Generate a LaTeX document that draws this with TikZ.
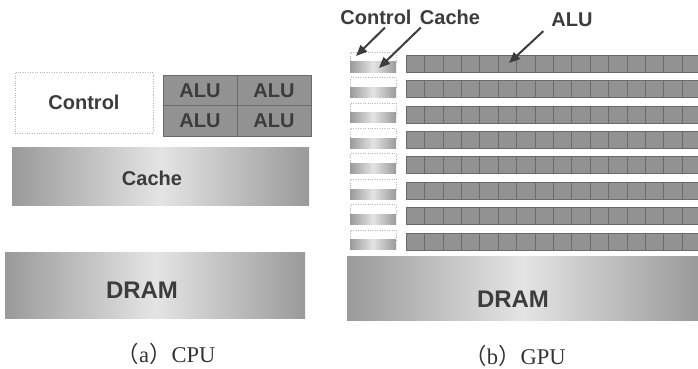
\documentclass[tikz,border=0pt]{standalone}
\usepackage{fontspec}
\setmainfont{Liberation Serif}
\setsansfont{Liberation Sans}
\newfontfamily\cjk{Noto Sans CJK SC}
\usetikzlibrary{arrows.meta}

\definecolor{ink}{HTML}{3C3C3C}
\definecolor{alugray}{HTML}{929292}
\definecolor{aluline}{HTML}{6A6A6A}
\definecolor{shadedark}{HTML}{9A9A9A}
\definecolor{shadelight}{HTML}{E4E4E4}

\begin{document}
\begin{tikzpicture}[
  x=1pt, y=-1pt,
  every node/.style={inner sep=0pt, text=ink},
  lbl/.style={font=\sffamily\bfseries\fontsize{20}{24}\selectfont},
  biglbl/.style={font=\sffamily\bfseries\fontsize{24}{28}\selectfont},
  captxt/.style={font=\fontsize{22.5}{26}\selectfont, text=black!80},
  ctrlbox/.style={draw=gray!60, dotted, fill=white},
  alubox/.style={draw=aluline, line width=0.5pt, fill=alugray},
  shadebox/.style={left color=shadedark, right color=shadedark, middle color=shadelight},
  ptr/.style={draw=ink, line width=2pt, -{Triangle[length=11pt, width=9pt]}}]

  \useasboundingbox (0,0) rectangle (698,369);

  % (a) CPU
  \node[ctrlbox, lbl, minimum width=138pt, minimum height=61pt] (ctrl) at (84,102.5) {Control};
  \node[alubox, lbl, minimum width=74pt, minimum height=30.5pt] (alu11) at (200,90.25)  {ALU};
  \node[alubox, lbl, minimum width=74pt, minimum height=30.5pt] (alu12) at (274,90.25)  {ALU};
  \node[alubox, lbl, minimum width=74pt, minimum height=30.5pt] (alu21) at (200,120.75) {ALU};
  \node[alubox, lbl, minimum width=74pt, minimum height=30.5pt] (alu22) at (274,120.75) {ALU};
  \node[shadebox, minimum width=297pt, minimum height=58pt] (cache) at (160.5,176) {};
  \node[lbl] (cachetxt) at (152,178) {Cache};
  \node[shadebox, minimum width=300pt, minimum height=66pt] (dram) at (155,285) {};
  \node[biglbl] (dramtxt) at (142,290) {DRAM};

  % (b) GPU: control + cache column, ALU rows
  \foreach \r [evaluate=\r as \yc using 52+25.4*\r,
               evaluate=\r as \ya using 55+25.4*\r] in {0,...,7} {
    \node[ctrlbox, minimum width=46pt, minimum height=10pt] (gctrl\r)  at (373,\yc+5)  {};
    \node[shadebox, minimum width=46pt, minimum height=10pt] (gcache\r) at (373,\yc+15) {};
    \fill[alugray] (406,\ya) rectangle (698,\ya+17);
    \draw[aluline, line width=0.4pt] (698,\ya) -- (406,\ya) -- (406,\ya+17) -- (698,\ya+17);
    \foreach \k in {1,...,15}
      \draw[aluline, line width=0.5pt] ({406+18.4*\k},\ya) -- ++(0,17);
  }
  \node[shadebox, minimum width=351pt, minimum height=64pt] (gdram) at (522.5,288) {};
  \node[biglbl] (gdramtxt) at (513,299) {DRAM};

  % labels and pointers
  \node[lbl] (lctrl)  at (376,17) {Control};
  \node[lbl] (lcache) at (450,17) {Cache};
  \node[lbl] (lalu)   at (572,20) {ALU};
  \coordinate (ctrltip)  at (356,56);
  \coordinate (cachetip) at (379,68);
  \coordinate (alutip)   at (509,63);
  \draw[ptr] ([xshift=9pt,yshift=-3pt]lctrl.south)       -- (ctrltip);
  \draw[ptr] ([xshift=1pt,yshift=-3pt]lcache.south west) -- (cachetip);
  \draw[ptr] ([xshift=-8pt,yshift=-4pt]lalu.south west)  -- (alutip);

  % captions
  \node[captxt] (capa) at (166,354) {{\cjk （}a{\cjk ）}CPU};
  \node[captxt] (capb) at (515,356) {{\cjk （}b{\cjk ）}GPU};
\end{tikzpicture}
\end{document}
